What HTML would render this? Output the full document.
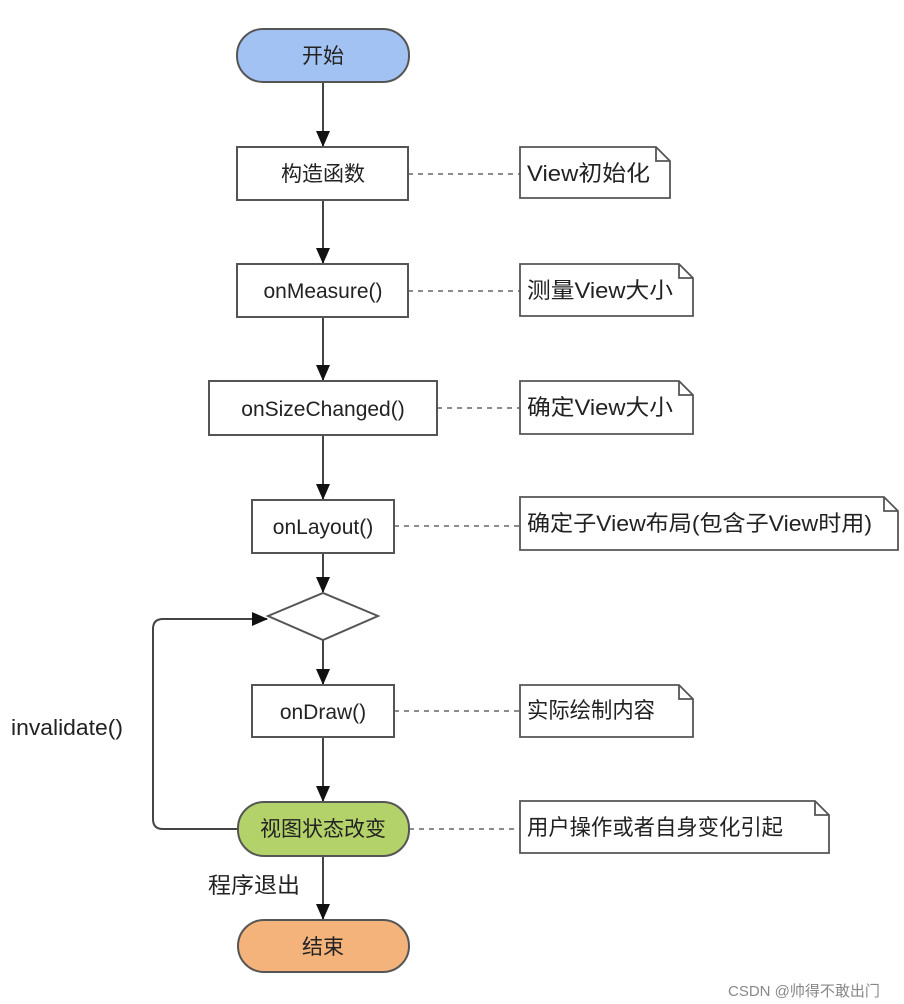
<!DOCTYPE html>
<html><head><meta charset="utf-8"><style>
html,body{margin:0;padding:0;background:#fff;}
svg{display:block;}
text{font-family:"Liberation Sans","Noto Sans CJK SC",sans-serif;fill:#222;}
</style></head><body>
<svg width="904" height="1004" viewBox="0 0 904 1004" xmlns="http://www.w3.org/2000/svg">
<defs>
<marker id="b" markerWidth="16" markerHeight="16" refX="15" refY="8" orient="auto" markerUnits="userSpaceOnUse" viewBox="0 0 16 16">
<path d="M0,1 L16,8 L0,15 z" fill="#111"/></marker>
</defs>
<g stroke="#444" stroke-width="2" fill="none">
<line x1="323" y1="82" x2="323" y2="146" marker-end="url(#b)"/>
<line x1="323" y1="200" x2="323" y2="263" marker-end="url(#b)"/>
<line x1="323" y1="317" x2="323" y2="380" marker-end="url(#b)"/>
<line x1="323" y1="435" x2="323" y2="499" marker-end="url(#b)"/>
<line x1="323" y1="553" x2="323" y2="592" marker-end="url(#b)"/>
<line x1="323" y1="640" x2="323" y2="684" marker-end="url(#b)"/>
<line x1="323" y1="737" x2="323" y2="801" marker-end="url(#b)"/>
<line x1="323" y1="856" x2="323" y2="919" marker-end="url(#b)"/>
<path d="M238,829 H163 Q153,829 153,819 V629 Q153,619 163,619 H267" marker-end="url(#b)"/>
</g>
<g stroke="#666" stroke-width="1.5" stroke-dasharray="5,5">
<line x1="408" y1="174" x2="520" y2="174"/>
<line x1="408" y1="291" x2="520" y2="291"/>
<line x1="437" y1="408" x2="520" y2="408"/>
<line x1="394" y1="526" x2="520" y2="526"/>
<line x1="394" y1="711" x2="520" y2="711"/>
<line x1="409" y1="829" x2="520" y2="829"/>
</g>
<g stroke="#555" stroke-width="2">
<rect x="237" y="29" width="172" height="53" rx="26" fill="#a3c2f4"/>
<rect x="237" y="147" width="171" height="53" fill="#fff"/>
<rect x="237" y="264" width="171" height="53" fill="#fff"/>
<rect x="209" y="381" width="228" height="54" fill="#fff"/>
<rect x="252" y="500" width="142" height="53" fill="#fff"/>
<polygon points="268,616 323,593 378,616 323,640" fill="#fff"/>
<rect x="252" y="685" width="142" height="52" fill="#fff"/>
<rect x="238" y="802" width="171" height="54" rx="26" fill="#b4d26a"/>
<rect x="238" y="920" width="171" height="52" rx="26" fill="#f5b37c"/>
</g>
<g stroke="#555" stroke-width="1.8" fill="#fff">
<path d="M520,147 H656 L670,161 V198 H520 Z M656,147 V161 H670"/>
<path d="M520,264 H679 L693,278 V316 H520 Z M679,264 V278 H693"/>
<path d="M520,381 H679 L693,395 V434 H520 Z M679,381 V395 H693"/>
<path d="M520,497 H884 L898,511 V550 H520 Z M884,497 V511 H898"/>
<path d="M520,685 H679 L693,699 V737 H520 Z M679,685 V699 H693"/>
<path d="M520,801 H815 L829,815 V853 H520 Z M815,801 V815 H829"/>
</g>
<g font-size="21" text-anchor="middle">
<text x="323" y="63">开始</text>
<text x="323" y="181">构造函数</text>
<text x="323" y="298">onMeasure()</text>
<text x="323" y="416">onSizeChanged()</text>
<text x="323" y="534">onLayout()</text>
<text x="323" y="719">onDraw()</text>
<text x="323" y="836">视图状态改变</text>
<text x="323" y="954">结束</text>
</g>
<g font-size="22">
<text x="527" y="181" textLength="123" lengthAdjust="spacingAndGlyphs">View初始化</text>
<text x="527" y="298" textLength="146" lengthAdjust="spacingAndGlyphs">测量View大小</text>
<text x="527" y="415" textLength="146" lengthAdjust="spacingAndGlyphs">确定View大小</text>
<text x="527" y="531" textLength="345" lengthAdjust="spacingAndGlyphs">确定子View布局(包含子View时用)</text>
<text x="527" y="718" textLength="128" lengthAdjust="spacingAndGlyphs">实际绘制内容</text>
<text x="527" y="835" textLength="256" lengthAdjust="spacingAndGlyphs">用户操作或者自身变化引起</text>
<text x="11" y="735" textLength="112" lengthAdjust="spacingAndGlyphs">invalidate()</text>
<text x="208" y="893" textLength="92" lengthAdjust="spacingAndGlyphs">程序退出</text>
</g>
<text x="728" y="996" font-size="15" style="fill:#888">CSDN @帅得不敢出门</text>
</svg>
</body></html>
